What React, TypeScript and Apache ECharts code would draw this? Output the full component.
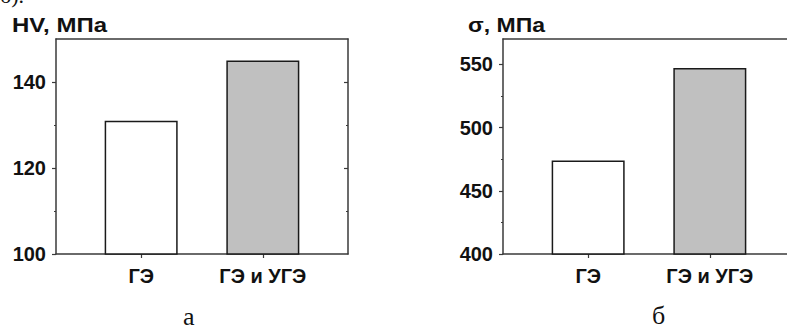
import React, { useEffect, useRef } from "react";
import * as echarts from "echarts";

const categories = ["ГЭ", "ГЭ и УГЭ"];
const categoryPositions = [1, 2];
const hvValues = [131, 145];
const sigmaValues = [474, 547];
const hvMajorTicks = [100, 120, 140];
const hvMinorTicks = [110, 130];
const sigmaMajorTicks = [400, 450, 500, 550];
const sigmaMinorTicks = [425, 475, 525];
const barColors = ["#ffffff", "#c0c0c0"];
const panelTitles = ["HV, МПа", "σ, МПа"];
const panelLetters = ["а", "б"];

const AXIS_COLOR = "#3a3a3a";
const LABEL_FONT = "Liberation Sans";

function buildPanel(gi: number, left: number, yMin: number, yMax: number, major: number[], minor: number[]) {
  const grid = { left, top: 39, width: 292, height: 215 };
  const xAxes = [
    {
      type: "value", gridIndex: gi, position: "bottom", min: 0.3, max: 2.7,
      axisLine: { show: true, onZero: false, lineStyle: { color: AXIS_COLOR, width: 1.5 } },
      axisTick: { show: true, customValues: categoryPositions, length: 4, lineStyle: { color: AXIS_COLOR, width: 1.2 } },
      axisLabel: {
        show: true, customValues: categoryPositions, margin: 12,
        formatter: (v: number) => categories[Math.round(v) - 1] ?? "",
        fontFamily: LABEL_FONT, fontWeight: "bold", fontSize: 20, color: "#111",
      },
      splitLine: { show: false },
    },
    {
      type: "value", gridIndex: gi, position: "top", min: 0.3, max: 2.7,
      axisLine: { show: true, onZero: false, lineStyle: { color: AXIS_COLOR, width: 1.5 } },
      axisTick: { show: false }, axisLabel: { show: false }, splitLine: { show: false },
    },
  ];
  const mk = (position: string, ticks: number[], len: number, inside: boolean, showLine: boolean, showLabel: boolean) => ({
    type: "value", gridIndex: gi, position, min: yMin, max: yMax,
    axisLine: { show: showLine, onZero: false, lineStyle: { color: AXIS_COLOR, width: 1.5 } },
    axisTick: { show: true, inside, customValues: ticks, length: len, lineStyle: { color: AXIS_COLOR, width: 1.2 } },
    axisLabel: showLabel
      ? { show: true, customValues: ticks, margin: 10, fontFamily: LABEL_FONT, fontWeight: "bold", fontSize: 20, color: "#111" }
      : { show: false },
    splitLine: { show: false },
  });
  const yAxes = [
    mk("left", major, 4, false, true, true),
    mk("left", minor, 2, false, false, false),
    mk("right", major.filter((t) => t !== yMin), 4, true, true, false),
    mk("right", minor, 2, true, false, false),
  ];
  return { grid, xAxes, yAxes };
}

export default function App() {
  const ref = useRef<HTMLDivElement>(null);
  useEffect(() => {
    if (!ref.current) return;
    const chart = echarts.init(ref.current, undefined, { renderer: "svg" });
    const p1 = buildPanel(0, 56, 100, 150, hvMajorTicks, hvMinorTicks);
    const p2 = buildPanel(1, 503, 400, 570, sigmaMajorTicks, sigmaMinorTicks);
    const mkSeries = (xi: number, yi: number, vals: number[]) => ({
      type: "bar", xAxisIndex: xi, yAxisIndex: yi, barWidth: 73, clip: true,
      itemStyle: { borderColor: "#1a1a1a", borderWidth: 1.5 },
      data: vals.map((v, i) => ({ value: [categoryPositions[i], v], itemStyle: { color: barColors[i] } })),
    });
    chart.setOption({
      animation: false,
      backgroundColor: "#ffffff",
      grid: [p1.grid, p2.grid],
      xAxis: [...p1.xAxes, ...p2.xAxes],
      yAxis: [...p1.yAxes, ...p2.yAxes],
      series: [mkSeries(0, 0, hvValues), mkSeries(2, 4, sigmaValues)],
      graphic: [
        { type: "text", x: 0, y: -16, style: { text: "б).", font: '22px "Liberation Serif"', fill: "#111" } },
        { type: "text", x: 12, y: 15, style: { text: panelTitles[0], font: 'bold 20px "Liberation Sans"', fill: "#111" }, scaleX: 1.2 },
        { type: "text", x: 468, y: 15, style: { text: panelTitles[1], font: 'bold 20px "Liberation Sans"', fill: "#111" }, scaleX: 1.15 },
        { type: "text", x: 183, y: 303, style: { text: panelLetters[0], font: '26px "Liberation Serif"', fill: "#111" } },
        { type: "text", x: 652, y: 302, style: { text: panelLetters[1], font: '26px "Liberation Serif"', fill: "#111" } },
      ],
    });
    return () => chart.dispose();
  }, []);
  return (
    <div style={{ position: "absolute", left: 0, top: 0, width: 787, height: 329, overflow: "hidden", background: "#fff" }}>
      <div ref={ref} style={{ width: 800, height: 329 }} />
    </div>
  );
}
